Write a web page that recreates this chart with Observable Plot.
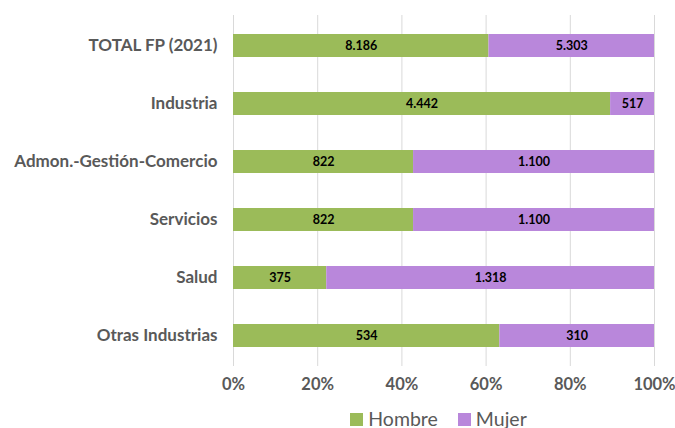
<!DOCTYPE html>
<html><head><meta charset="utf-8">
<script src="https://cdn.jsdelivr.net/npm/d3@7"></script>
<script src="https://cdn.jsdelivr.net/npm/@observablehq/plot@0.6"></script>
<style>
body{margin:0;background:#fff;font-family:Lato,"Open Sans",sans-serif;}
#legend{width:421px;margin-left:228px;height:20px;display:flex;justify-content:center;align-items:center;gap:20px;font-size:19.5px;color:#595959;}
#legend span.sw{display:inline-block;width:13px;height:13px;margin-right:5px;}
</style></head>
<body>
<div id="chart"></div>
<div id="legend"></div>
<script>
const categories = ["TOTAL FP (2021)","Industria","Admon.-Gestión-Comercio","Servicios","Salud","Otras Industrias"];
const hombre = [8186, 4442, 822, 822, 375, 534];
const mujer  = [5303, 517, 1100, 1100, 1318, 310];
const series = ["Hombre","Mujer"];
const colors = ["#9bbb59","#b987db"];
const xTicks = [0,0.2,0.4,0.6,0.8,1];

const data = [];
categories.forEach((c,i)=>{
  data.push({cat:c, sexo:"Hombre", value:hombre[i]});
  data.push({cat:c, sexo:"Mujer", value:mujer[i]});
});
const loc = d3.formatLocale({thousands:".", decimal:",", grouping:[3], currency:["","€"]});
const fmt = loc.format(",d");

const plot = Plot.plot({
  width:675, height:408,
  marginLeft:233, marginRight:21, marginTop:15, marginBottom:42,
  style:{fontFamily:"Lato, 'Open Sans', sans-serif"},
  x:{domain:[0,1], ticks:xTicks, tickFormat:d=>Math.round(d*100)+"%", tickSize:0, tickPadding:12, label:null},
  y:{domain:categories, paddingInner:0.6, paddingOuter:0.3, tickSize:0, tickPadding:16, label:null},
  color:{domain:series, range:colors},
  marks:[
    Plot.ruleX(xTicks,{stroke:"#d9d9d9", strokeWidth:1}),
    Plot.barX(data, Plot.stackX({x:"value", y:"cat", fill:"sexo", offset:"normalize", order:series})),
    Plot.textX(data, Plot.stackX({x:"value", y:"cat", z:"sexo", offset:"normalize", order:series, text:d=>fmt(d.value), fill:"#000", fontWeight:"bold", fontSize:12.5})),
    Plot.axisX({ticks:xTicks, tickFormat:d=>Math.round(d*100)+"%", tickSize:0, tickPadding:12, fontSize:16.5, fontWeight:"bold", fill:"#595959", label:null}),
    Plot.axisY({tickSize:0, tickPadding:16, fontSize:17, fontWeight:"bold", fill:"#595959", label:null})
  ]
});
document.getElementById("chart").appendChild(plot);
const lg = document.getElementById("legend");
series.forEach((s,i)=>{
  const it = document.createElement("span");
  it.innerHTML = `<span class="sw" style="background:${colors[i]}"></span>${s}`;
  lg.appendChild(it);
});
</script>
</body></html>
